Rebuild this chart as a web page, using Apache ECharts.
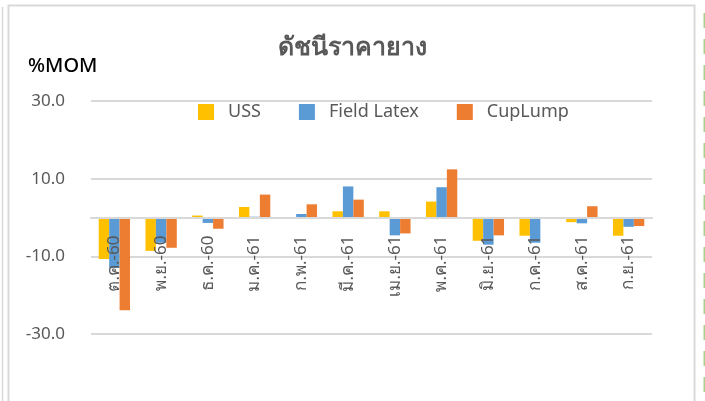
<!DOCTYPE html>
<html>
<head>
<meta charset="utf-8">
<script src="https://cdn.jsdelivr.net/npm/echarts@6/dist/echarts.min.js"></script>
<style>
  html, body { margin: 0; padding: 0; background: #fff; }
  #main { width: 705px; height: 401px; }
</style>
</head>
<body>
<div id="main"></div>
<script>
var months = ['ต.ค.-60', 'พ.ย.-60', 'ธ.ค.-60', 'ม.ค.-61', 'ก.พ.-61', 'มี.ค.-61',
    'เม.ย.-61', 'พ.ค.-61', 'มิ.ย.-61', 'ก.ค.-61', 'ส.ค.-61', 'ก.ย.-61'];
var uss = [-10.7, -8.6, 0.5, 2.7, 0, 1.6, 1.6, 4.1, -6.0, -4.7, -1.2, -4.7];
var fieldLatex = [-13.0, -6.5, -1.4, 0.2, 0.9, 8.0, -4.6, 7.8, -7.0, -6.5, -1.5, -2.4];
var cupLump = [-23.9, -7.8, -2.9, 5.9, 3.4, 4.6, -4.1, 12.4, -4.6, 0, 2.9, -2.2];

var font = "'Noto Sans', 'DejaVu Sans', sans-serif";
var grey = '#595959';

var chart = echarts.init(document.getElementById('main'));

// frame lines round the chart (like the sheet it was cut from)
var frame = [
    { type: 'rect', shape: { x: 8.5, y: 5.5, width: 686, height: 420 }, style: { fill: 'none', stroke: '#d9d9d9', lineWidth: 2 } },
    { type: 'line', shape: { x1: 2.5, y1: 7, x2: 2.5, y2: 401 }, style: { stroke: '#d9d9d9', lineWidth: 1.5 } },
    { type: 'line', shape: { x1: 704.5, y1: 13, x2: 704.5, y2: 401 }, style: { stroke: '#a9d18e', lineWidth: 2, lineDash: [15, 11] } }
];

var option = {
    backgroundColor: '#fff',
    animation: false,
    graphic: frame.concat([{
        type: 'text',
        left: 28,
        top: 56,
        style: { text: '%MOM', fill: '#000', font: '500 20px ' + font }
    }]),
    title: {
        text: 'ดัชนีราคายาง',
        left: 'center',
        top: 30,
        textStyle: { color: grey, fontSize: 25, fontWeight: 'bold', fontFamily: font }
    },
    legend: {
        left: 193,
        top: 98,
        itemWidth: 16,
        itemHeight: 16,
        itemGap: 38,
        icon: 'rect',
        textStyle: { color: grey, fontSize: 18, fontFamily: font, padding: [0, 0, 0, 9] },
        data: ['USS', 'Field Latex', 'CupLump']
    },
    grid: { left: 91, right: 53, top: 101, bottom: 67 },
    xAxis: {
        type: 'category',
        data: months,
        offset: -116.5,
        z: 10,
        axisLine: { onZero: false, lineStyle: { color: '#d9d9d9', width: 2 } },
        axisTick: { show: false },
        axisLabel: {
            rotate: 90,
            interval: 0,
            margin: 18,
            color: grey,
            fontSize: 17,
            fontFamily: font
        }
    },
    yAxis: {
        type: 'value',
        min: -30,
        max: 30,
        interval: 20,
        axisLine: { show: false },
        axisTick: { show: false },
        splitLine: { lineStyle: { color: '#d9d9d9', width: 2 } },
        axisLabel: {
            margin: 26,
            color: grey,
            fontSize: 17,
            fontFamily: font,
            formatter: function (v) { return v.toFixed(1); }
        }
    },
    series: [
        { name: 'USS', type: 'bar', data: uss, barGap: '0%', barCategoryGap: '33%', itemStyle: { color: '#ffc000' } },
        { name: 'Field Latex', type: 'bar', data: fieldLatex, itemStyle: { color: '#5b9bd5' } },
        { name: 'CupLump', type: 'bar', data: cupLump, itemStyle: { color: '#ed7d31' } }
    ]
};
chart.setOption(option);
</script>
</body>
</html>
